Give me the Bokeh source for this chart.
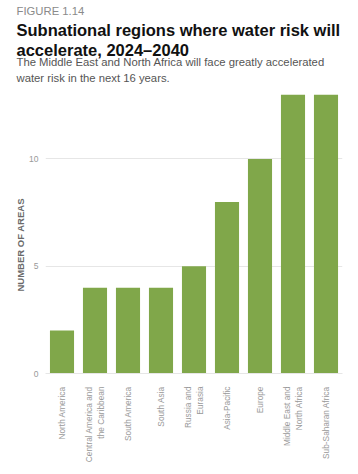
import math
from bokeh.plotting import figure
from bokeh.models import Title, ColumnDataSource, FixedTicker
from bokeh.embed import file_html
from bokeh.resources import INLINE

regions = ["North America", "Central America and\nthe Caribbean", "South America",
           "South Asia", "Russia and\nEurasia", "Asia-Pacific", "Europe",
           "Middle East and\nNorth Africa", "Sub-Saharan Africa"]
areas = [2, 4, 4, 4, 5, 8, 10, 13, 13]
y_ticks = [0, 5, 10]

FONT = "Liberation Sans"
GREEN = "#80a74a"
GRAY = "#999999"

src = ColumnDataSource(dict(region=regions, areas=areas))

p = figure(x_range=regions, y_range=(0, 13.1), width=358, height=474,
           output_backend="svg", toolbar_location=None,
           min_border_left=45, min_border_right=16, min_border_bottom=101, min_border_top=0)

p.vbar(x="region", top="areas", width=0.73, source=src, color=GREEN, line_color=None)

p.outline_line_color = None
p.xgrid.grid_line_color = None
p.ygrid.grid_line_color = "#e6e6e6"
p.ygrid.grid_line_width = 1

p.yaxis.ticker = FixedTicker(ticks=y_ticks)
p.yaxis.axis_line_color = None
p.yaxis.major_tick_line_color = None
p.yaxis.minor_tick_line_color = None
p.yaxis.major_label_text_color = GRAY
p.yaxis.major_label_text_font = FONT
p.yaxis.major_label_text_font_size = "8.5px"
p.yaxis.major_label_standoff = 1
p.yaxis.axis_label = "NUMBER OF AREAS" + "\u00a0" * 9
p.yaxis.axis_label_text_font = FONT
p.yaxis.axis_label_text_font_size = "9.5px"
p.yaxis.axis_label_text_font_style = "bold"
p.yaxis.axis_label_text_color = "#6a6a6a"
p.yaxis.axis_label_standoff = 0

p.xaxis.axis_line_color = "#e6e6e6"
p.xaxis.major_tick_line_color = None
p.xaxis.minor_tick_line_color = None
p.xaxis.major_label_orientation = math.pi / 2
p.xaxis.major_label_text_color = GRAY
p.xaxis.major_label_text_font = FONT
p.xaxis.major_label_text_font_size = "8.3px"
p.xaxis.major_label_standoff = 7

def add_title(text, size, color, style="normal", standoff=0):
    t = Title(text=text, text_font=FONT, text_font_size=size, text_color=color,
              text_font_style=style, offset=-29, standoff=standoff, align="left")
    p.add_layout(t, "above")

add_title("water risk in the next 16 years.", "11.3px", "#555555", standoff=18)
add_title("The Middle East and North Africa will face greatly accelerated", "11.3px", "#555555", standoff=-15)
add_title("accelerate, 2024\u20132040", "16.5px", "#111111", "bold", standoff=3)
add_title("Subnational regions where water risk will", "16.5px", "#111111", "bold", standoff=-2)
add_title("FIGURE 1.14", "11.3px", "#8a8a8a", standoff=5)

open("out.html", "w").write(file_html(p, INLINE))
